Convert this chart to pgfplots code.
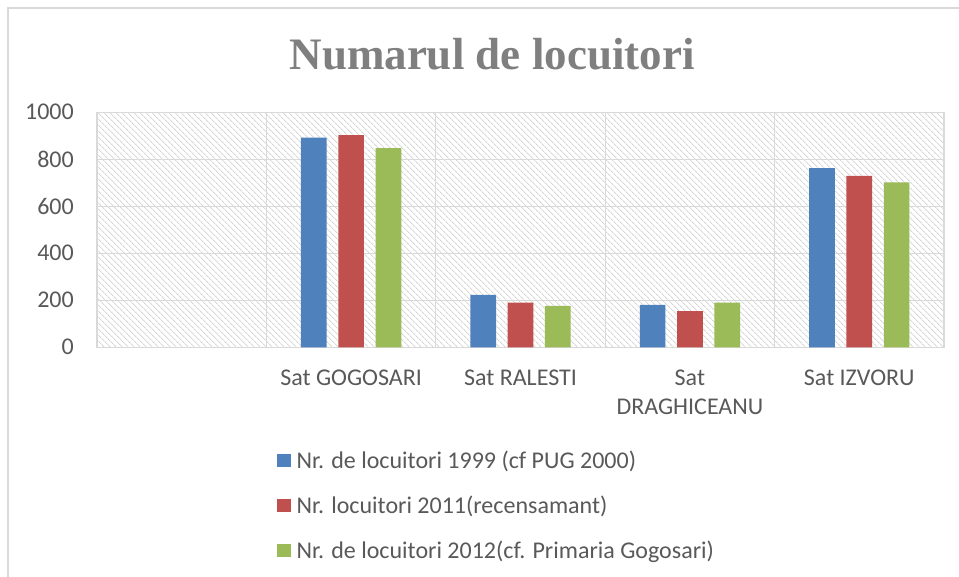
\documentclass[border=0pt]{standalone}
\usepackage{fontspec}
\setmainfont{Carlito}
\newfontfamily\titlefont{Liberation Serif}
\usepackage{pgfplots}
\pgfplotsset{compat=1.18}
\usetikzlibrary{patterns.meta}
\definecolor{cblue}{HTML}{4F81BD}
\definecolor{cred}{HTML}{C0504D}
\definecolor{cgreen}{HTML}{9BBB59}
\definecolor{gridgray}{HTML}{D9D9D9}
\definecolor{hatch}{HTML}{D6D6D6}
\definecolor{labelgray}{HTML}{595959}
\definecolor{titlegray}{HTML}{7F7F7F}
\begin{document}
\begin{tikzpicture}[x=1pt,y=1pt]
\useasboundingbox (0,0) rectangle (959,577);
\fill[white] (0,0) rectangle (959,577);
\draw[gridgray, line width=1.5pt] (8,0) -- (8,569) -- (959,569);
\node[font=\titlefont\bfseries\fontsize{45}{54}\selectfont, text=titlegray, anchor=base] at (492,507) {Numarul de locuitori};
\begin{axis}[
  at={(97pt,229.7pt)}, anchor=south west,
  scale only axis, width=847pt, height=235pt,
  xmin=-0.5, xmax=4.5, ymin=0, ymax=1000,
  ybar, bar width=25.7pt, ybar=11.6pt,
  axis background/.style={pattern={Lines[angle=-45,distance=4pt,line width=1pt]}, pattern color=hatch},
  axis line style={gridgray, line width=1.3pt},
  ytick={0,200,400,600,800,1000},
  ymajorgrids, major grid style={gridgray, line width=1.3pt},
  xtick={1,2,3,4},
  xticklabels={Sat GOGOSARI, Sat RALESTI, {Sat\\DRAGHICEANU}, Sat IZVORU},
  minor xtick={-0.5,0.5,1.5,2.5,3.5,4.5},
  xminorgrids, minor grid style={gridgray, line width=1.3pt},
  major tick length=0pt, minor tick length=0pt,
  /pgf/number format/assume math mode=true,
  /pgf/number format/1000 sep={},
  y tick label style={font=\fontsize{24}{28}\selectfont, text=labelgray, anchor=east, inner sep=0pt, xshift=-23pt},
  x tick label style={align=center, font=\fontsize{24}{29}\selectfont, text=labelgray, anchor=north, inner sep=0pt, yshift=-22pt},
  legend style={at={(0.2125,-0.44)}, anchor=north west, draw=none, fill=none, inner sep=0pt,
    font=\fontsize{24}{28}\selectfont, text=labelgray, row sep=26pt, column sep=6pt, nodes={inner sep=0pt}},
  legend cell align=left,
  legend image code/.code={\fill[#1, draw=none] (0pt,-6.7pt) rectangle (13.4pt,6.7pt);},
]
\addplot[fill=cblue, draw=none] coordinates {(1,892) (2,223) (3,180) (4,762)};
\addplot[fill=cred, draw=none] coordinates {(1,903) (2,190) (3,154) (4,729)};
\addplot[fill=cgreen, draw=none] coordinates {(1,847) (2,176) (3,190) (4,702)};
\legend{Nr. de locuitori 1999 (cf PUG 2000), Nr. locuitori 2011(recensamant), Nr. de locuitori 2012(cf. Primaria Gogosari)}
\end{axis}
\end{tikzpicture}
\end{document}
